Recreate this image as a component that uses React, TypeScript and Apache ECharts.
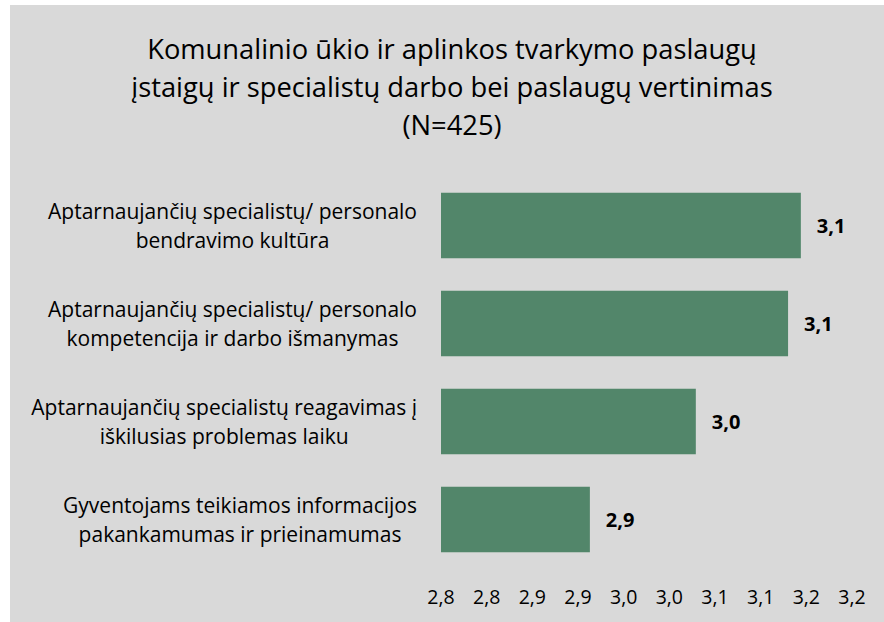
import React, { useEffect, useRef } from "react";
import * as echarts from "echarts";

const titleText =
  "Komunalinio ūkio ir aplinkos tvarkymo paslaugų\nįstaigų ir specialistų darbo bei paslaugų vertinimas\n(N=425)";

const categories = [
  "Aptarnaujančių specialistų/ personalo\nbendravimo kultūra",
  "Aptarnaujančių specialistų/ personalo\nkompetencija ir darbo išmanymas",
  "Aptarnaujančių specialistų reagavimas į\niškilusias problemas laiku",
  "Gyventojams teikiamos informacijos\npakankamumas ir prieinamumas",
];

const values = [3.144, 3.13, 3.029, 2.913];

const tickLabels = ["2,8", "2,8", "2,9", "2,9", "3,0", "3,0", "3,1", "3,1", "3,2", "3,2"];

const FONT = "Open Sans";

export default function App() {
  const ref = useRef<HTMLDivElement>(null);

  useEffect(() => {
    if (!ref.current) return;
    const chart = echarts.init(ref.current, null, { renderer: "svg" });
    chart.setOption({
      animation: false,
      backgroundColor: "#ffffff",
      graphic: [
        {
          type: "rect",
          z: -10,
          silent: true,
          shape: { x: 10, y: 5, width: 874, height: 617 },
          style: { fill: "#d9d9d9" },
        },
      ],
      title: {
        text: titleText,
        left: 452,
        top: 29,
        textAlign: "center",
        padding: 0,
        textStyle: {
          fontFamily: FONT,
          fontSize: 27.3,
          lineHeight: 38,
          fontWeight: "normal",
          color: "#000000",
        },
      },
      grid: {
        left: 441,
        right: 32,
        top: 176.5,
        bottom: 53.5,
        containLabel: false,
      },
      xAxis: {
        type: "value",
        min: 2.75,
        max: 3.2,
        interval: 0.05,
        axisLine: { show: false },
        axisTick: { show: false },
        splitLine: { show: false },
        axisLabel: {
          show: true,
          showMinLabel: true,
          showMaxLabel: true,
          margin: 18,
          fontFamily: FONT,
          fontSize: 19.5,
          color: "#000000",
          formatter: (_v: number, i: number) => tickLabels[i] ?? "",
        },
      },
      yAxis: {
        type: "category",
        inverse: true,
        data: categories,
        axisLine: { show: false },
        axisTick: { show: false },
        splitLine: { show: false },
        axisLabel: {
          margin: 24,
          align: "right",
          formatter: (v: string) =>
            v
              .split("\n")
              .map((l) => `{c|${l}}`)
              .join("\n"),
          rich: {
            c: {
              align: "center",
              fontFamily: FONT,
              fontSize: 21,
              lineHeight: 28.6,
              color: "#000000",
            },
          },
        },
      },
      series: [
        {
          type: "bar",
          data: values,
          barCategoryGap: "33%",
          itemStyle: { color: "#52866a" },
          label: {
            show: true,
            position: "right",
            distance: 16,
            fontFamily: FONT,
            fontSize: 20,
            fontWeight: "bold",
            color: "#000000",
            formatter: (p: any) => p.value.toFixed(1).replace(".", ","),
          },
        },
      ],
    });
    return () => chart.dispose();
  }, []);

  return (
    <div
      ref={ref}
      style={{ position: "absolute", left: 0, top: 0, width: 884, height: 622 }}
    />
  );
}
